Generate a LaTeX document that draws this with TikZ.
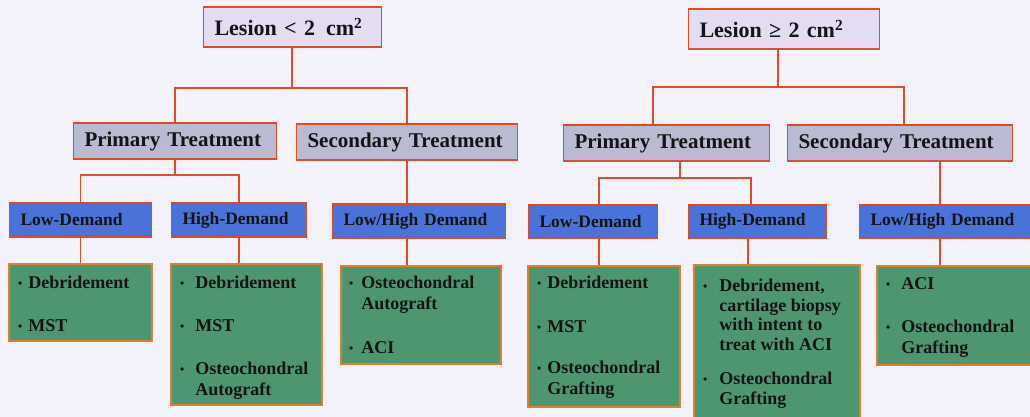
\documentclass[tikz,border=0pt]{standalone}
\usepackage{fontspec}
\setmainfont{Liberation Serif}
\definecolor{bg}{HTML}{F3F1F9}
\definecolor{edge}{HTML}{E04A24}
\definecolor{gedge}{HTML}{E0802E}
\definecolor{topfill}{HTML}{E4DCF2}
\definecolor{trfill}{HTML}{B8BBD1}
\definecolor{bluefill}{HTML}{4A72D8}
\definecolor{greenfill}{HTML}{4E9670}
\definecolor{ink}{HTML}{141414}
\newcommand\bul{\raisebox{1.5pt}{\fontsize{12}{12}\selectfont\textbullet}}
\newcommand\glist[2]{\begin{tabular}{@{}l@{\hspace{#1}}l@{}}#2\end{tabular}}
\tikzset{
  box/.style={draw=edge, line width=1.3pt, inner xsep=11pt, inner ysep=0pt, align=left, text=ink},
  topbox/.style={box, fill=topfill, text width=#1, minimum height=40pt, font=\fontsize{22}{26}\selectfont\bfseries},
  trbox/.style={box, fill=trfill, text width=#1, minimum height=36pt, font=\fontsize{21}{25}\selectfont\bfseries},
  bluebox/.style={box, fill=bluefill, text width=#1, minimum height=34pt, font=\fontsize{17.5}{21}\selectfont\bfseries},
  gbox/.style={draw=gedge, line width=1.3pt, fill=greenfill, inner sep=0pt},
  gtext/.style={anchor=north west, inner sep=0pt, text=ink, font=\fontsize{18}{21}\selectfont\bfseries},
  conn/.style={draw=edge, line width=1.8pt},
}
\begin{document}
\begin{tikzpicture}[x=1pt,y=-1pt]
\useasboundingbox (0,0) rectangle (1030,417);
\clip (0,0) rectangle (1030,417);
\fill[bg] (0,0) rectangle (1030,417);

% left tree
\node[topbox=156pt] (top1) at (292.5,27) {Lesion < 2\, cm\textsuperscript{2}};
\node[trbox=181pt] (prim1) at (175,141) {Primary Treatment};
\node[trbox=199pt] (sec1) at (407,142) {Secondary Treatment};
\node[bluebox=120pt] (lowd1) at (80.5,220) {Low-Demand};
\node[bluebox=113pt] (highd1) at (239,220) {High-Demand};
\node[bluebox=151pt] (lhd1) at (419,221) {Low/High Demand};
\node[gbox, minimum width=143pt, minimum height=77pt] (g11) at (80.5,302.5) {};
\node[gbox, minimum width=151pt, minimum height=141pt] (g12) at (246.5,334.5) {};
\node[gbox, minimum width=160pt, minimum height=98pt] (g13) at (421,315) {};
\node[gtext] (t11) at (18,274) {\glist{6pt}{\bul & Debridement\\[22pt] \bul & MST}};
\node[gtext] (t12) at (180,274) {\glist{11pt}{\bul & Debridement\\[22pt] \bul & MST\\[22pt] \bul & Osteochondral\\ & Autograft}};
\node[gtext] (t13) at (349,274) {\glist{8pt}{\bul & Osteochondral\\ & Autograft\\[23pt] \bul & ACI}};

% right tree
\node[topbox=169pt] (top2) at (784,29) {Lesion \char"2265\ 2 cm\textsuperscript{2}};
\node[trbox=184pt] (prim2) at (666.5,143) {Primary Treatment};
\node[trbox=203pt] (sec2) at (900,143) {Secondary Treatment};
\node[bluebox=107pt] (lowd2) at (593,221.5) {Low-Demand};
\node[bluebox=116pt] (highd2) at (757.5,221.5) {High-Demand};
\node[bluebox=158pt] (lhd2) at (949.5,221.5) {Low/High Demand};
\node[gbox, minimum width=152pt, minimum height=141pt] (g21) at (604,336.5) {};
\node[gbox, minimum width=166pt, minimum height=165pt] (g22) at (777,347.5) {};
\node[gbox, minimum width=163pt, minimum height=99pt] (g23) at (958.5,315.5) {};
\node[gtext] (t21) at (537,274) {\glist{6pt}{\bul & Debridement\\[23pt] \bul & MST\\[20pt] \bul & Osteochondral\\ & Grafting}};
\node[gtext, font=\fontsize{18}{19.5}\selectfont\bfseries] (t22) at (703,278) {\glist{12pt}{\bul & Debridement,\\ & cartilage biopsy\\ & with intent to\\ & treat with ACI\\[15pt] \bul & Osteochondral\\ & Grafting}};
\node[gtext] (t23) at (886,275) {\glist{11pt}{\bul & ACI\\[22pt] \bul & Osteochondral\\ & Grafting}};

% left connectors
\coordinate (lt) at (292,88);
\coordinate (lp) at (175,175);
\draw[conn] (top1.south -| lt) -- (lt);
\draw[conn] (prim1.north) |- (lt) -| (sec1.north);
\draw[conn] (prim1.south) -- (lp);
\draw[conn] (lowd1.north) |- (lp) -| (highd1.north);
\draw[conn] (lowd1.south) -- (lowd1.south |- g11.north);
\draw[conn] (highd1.south) -- (highd1.south |- g12.north);
\draw[conn] (sec1.south) -- (sec1.south |- lhd1.north);
\draw[conn] (sec1.south |- lhd1.south) -- (sec1.south |- g13.north);

% right connectors
\coordinate (rt) at (778,87);
\coordinate (ra) at (653,87);
\coordinate (rb) at (904,87);
\coordinate (rc) at (680,178);
\coordinate (rd) at (599,178);
\coordinate (re) at (751,178);
\coordinate (rh) at (748,250);
\coordinate (rg) at (940,190);
\draw[conn] (top2.south -| rt) -- (rt);
\draw[conn] (prim2.north -| ra) -- (ra) -- (rb) -- (sec2.north -| rb);
\draw[conn] (prim2.south -| rc) -- (rc);
\draw[conn] (lowd2.north -| rd) -- (rd) -- (re) -- (highd2.north -| re);
\draw[conn, line width=1.2pt] (lowd2.south -| rd) -- (g21.north -| rd);
\draw[conn, line width=1.2pt] (highd2.south -| rh) -- (g22.north -| rh);
\draw[conn] (sec2.south -| rg) -- (lhd2.north -| rg);
\draw[conn, line width=1.2pt] (lhd2.south -| rg) -- (g23.north -| rg);
\end{tikzpicture}
\end{document}
